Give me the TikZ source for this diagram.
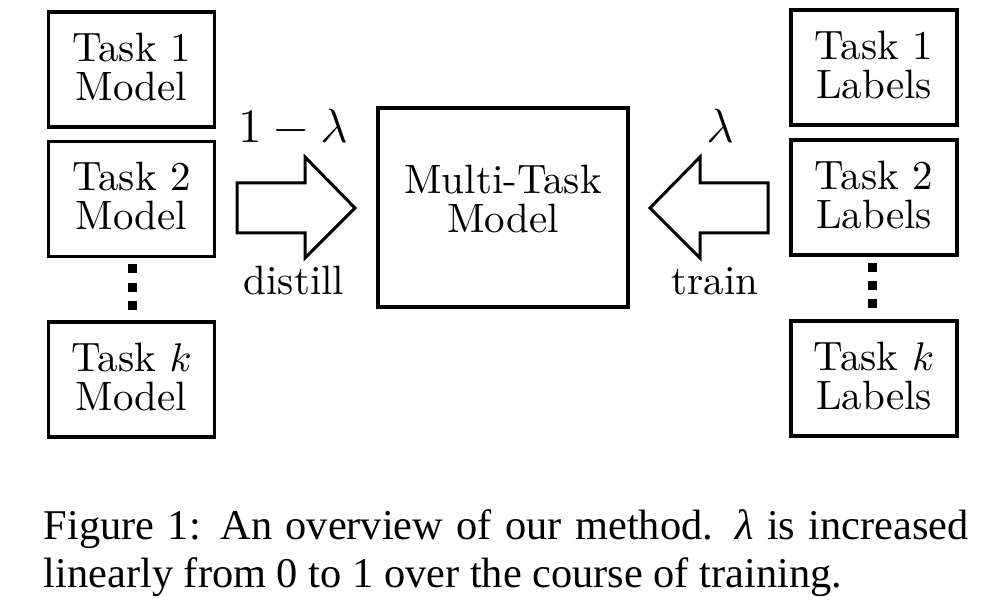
\documentclass[tikz,border=0pt]{standalone}
\usepackage{fontspec}
\newfontfamily\capfont{Liberation Serif}
\tikzset{
  taskbox/.style={draw, line width=0.8pt, minimum width=41.5pt, minimum height=28.75pt,
    align=center, inner sep=0pt, text depth=1.5pt, font=\fontsize{10.25}{9.7}\selectfont},
  mtmbox/.style={taskbox, minimum width=62.5pt, minimum height=49.75pt, text depth=4.5pt},
  bigarrow/.style={draw, line width=0.75pt, line join=miter},
  weight/.style={anchor=base, inner sep=0pt, font=\fontsize{12}{14}\selectfont},
  verb/.style={anchor=base, inner sep=0pt, font=\fontsize{10.25}{12}\selectfont},
  captext/.style={anchor=base west, inner sep=0pt, font=\capfont\fontsize{10.6}{12}\selectfont},
}
\begin{document}
\begin{tikzpicture}[x=0.25pt,y=-0.25pt]
  \useasboundingbox (0,0) rectangle (998,606);

  % teacher models
  \node[taskbox] (model1) at (131.5,69.5) {Task 1\\Model};
  \node[taskbox] (model2) at (131.5,199) {Task 2\\Model};
  \node[taskbox] (modelk) at (131.5,379.5) {Task $k$\\Model};
  \foreach \y in {269,287.5,306} {
    \fill (127.5,\y-4.5) rectangle (136.5,\y+4.5);
  }

  % ground truth labels
  \node[taskbox] (labels1) at (874,67.5) {Task 1\\Labels};
  \node[taskbox] (labels2) at (874,197.5) {Task 2\\Labels};
  \node[taskbox] (labelsk) at (874,378.5) {Task $k$\\Labels};
  \foreach \y in {267.5,286,304} {
    \fill (868,\y-4.5) rectangle (877,\y+4.5);
  }

  \node[mtmbox] (mtm) at (503,207.5) {Multi-Task\\Model};

  % distill arrow
  \draw[bigarrow] (237,183) -- (305,183) -- (305,157) -- (355,208)
    -- (305,258) -- (305,233) -- (237,233) -- cycle;
  \node[weight] (wdistill) at (293,143) {$1-\lambda$};
  \node[verb] (distill) at (294,295) {distill};

  % train arrow
  \draw[bigarrow] (768,183) -- (700,183) -- (700,157) -- (650,208)
    -- (700,258) -- (700,233) -- (768,233) -- cycle;
  \node[weight] (wtrain) at (720,143) {$\lambda$};
  \node[verb] (train) at (715,295) {train};

  % caption
  \node[captext] (cap1) at (43,540)
    {\hbox to 231.25pt{Figure 1: An overview of our method. \textit{λ} is increased}};
  \node[captext] (cap2) at (43,588) {linearly from 0 to 1 over the course of training.};
\end{tikzpicture}
\end{document}
